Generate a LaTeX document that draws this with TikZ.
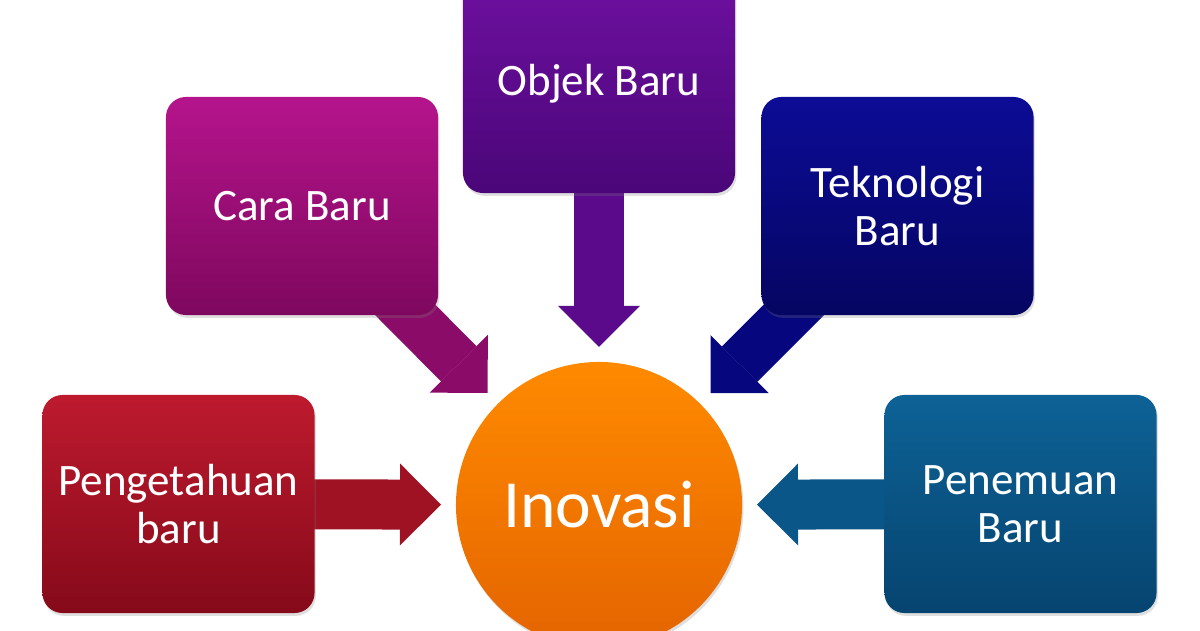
\documentclass[tikz,border=0pt]{standalone}
\usepackage{fontspec}
\setmainfont{Carlito}
\usetikzlibrary{arrows.meta,calc,backgrounds,shadows}

\definecolor{redtop}{HTML}{BE1A2E}
\definecolor{redbot}{HTML}{850A1A}
\definecolor{redarr}{HTML}{9E1224}
\definecolor{magtop}{HTML}{B5148C}
\definecolor{magbot}{HTML}{7E085E}
\definecolor{magarr}{HTML}{8B0C68}
\definecolor{purtop}{HTML}{6E10A0}
\definecolor{purbot}{HTML}{4A0678}
\definecolor{purarr}{HTML}{5A0A8A}
\definecolor{blutop}{HTML}{0C0C96}
\definecolor{blubot}{HTML}{050562}
\definecolor{bluarr}{HTML}{06067E}
\definecolor{teatop}{HTML}{0D6296}
\definecolor{teabot}{HTML}{064470}
\definecolor{teaarr}{HTML}{0A5688}
\definecolor{oratop}{HTML}{FF8A00}
\definecolor{orabot}{HTML}{E46400}

\begin{document}
\begin{tikzpicture}[
        x=0.025cm, y=-0.025cm,
        box/.style={rounded corners=0.5cm, minimum width=6.8cm, minimum height=5.45cm, align=center, text=white, font=\fontsize{32}{34}\selectfont, drop shadow={opacity=0.25, shadow xshift=1pt, shadow yshift=-2pt}},
        hub/.style={circle, minimum size=7.15cm, text=white, font=\fontsize{48}{58}\selectfont, top color=oratop, bottom color=orabot, drop shadow={opacity=0.25, shadow xshift=1pt, shadow yshift=-2pt}},
        fat/.style={line width=1.25cm, -{Triangle[length=1.025cm, width=2.05cm, line width=0pt]}}
    ]
    \useasboundingbox (0,0) rectangle (1200,630);
    \clip (0,0) rectangle (1200,630);
    \node[box, top color=redtop, bottom color=redbot] (pengetahuan) at (178.5,504) {Pengetahuan\\baru};
    \node[box, top color=magtop, bottom color=magbot] (cara) at (302,206) {Cara Baru};
    \node[box, top color=purtop, bottom color=purbot] (objek) at (599,84) {Objek Baru};
    \node[box, top color=blutop, bottom color=blubot] (teknologi) at (897.5,206) {Teknologi\\Baru};
    \node[box, top color=teatop, bottom color=teabot] (penemuan) at (1020.5,504) {Penemuan\\Baru};
    \node[hub] (inovasi) at (599,505) {Inovasi};
    \begin{scope}[on background layer]
        \draw[fat, redarr] (pengetahuan.center) -- ($(inovasi.center)!3.95cm!(pengetahuan.center)$);
        \draw[fat, magarr] (cara.center) -- ($(inovasi.center)!3.95cm!(cara.center)$);
        \draw[fat, purarr] (objek.center) -- ($(inovasi.center)!3.95cm!(objek.center)$);
        \draw[fat, bluarr] (teknologi.center) -- ($(inovasi.center)!3.95cm!(teknologi.center)$);
        \draw[fat, teaarr] (penemuan.center) -- ($(inovasi.center)!3.95cm!(penemuan.center)$);
    \end{scope}
\end{tikzpicture}
\end{document}
